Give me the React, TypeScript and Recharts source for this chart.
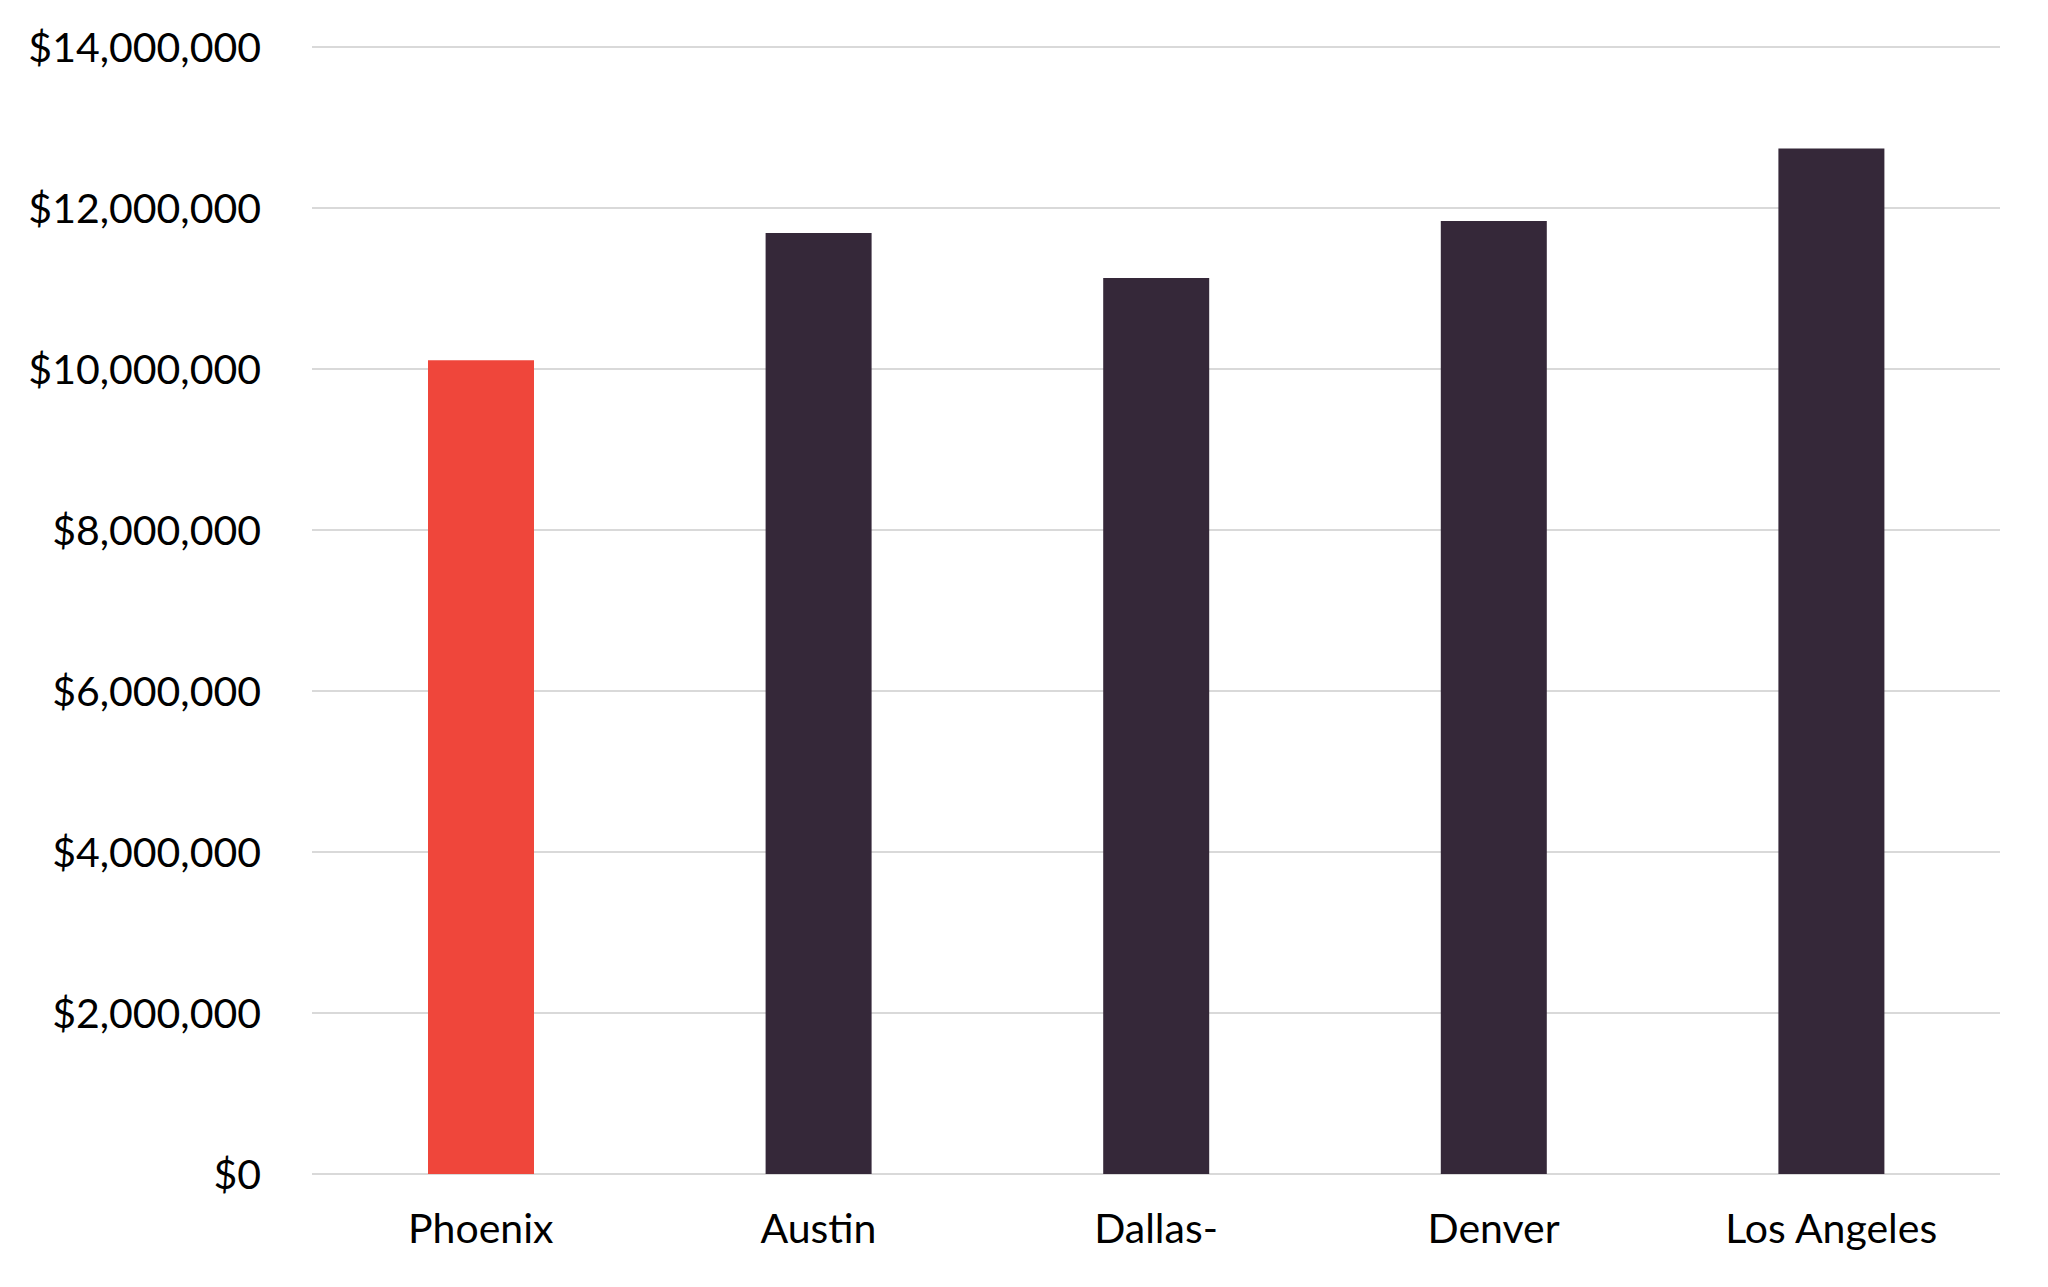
import { BarChart, Bar, Cell, XAxis, YAxis, CartesianGrid } from "recharts";

const cities = ["Phoenix", "Austin", "Dallas-", "Denver", "Los Angeles"];
const amounts = [10110000, 11690000, 11130000, 11840000, 12740000];
const yTicks = [0, 2000000, 4000000, 6000000, 8000000, 10000000, 12000000, 14000000];

const HIGHLIGHT = "#EF463B";
const BASE = "#352839";

const data = cities.map((city, i) => ({ city, amount: amounts[i] }));

const fmt = (v: number) => "$" + v.toLocaleString("en-US");

export default function App() {
  const tickStyle = { fill: "#000", fontSize: 41, fontFamily: "Lato, sans-serif" };
  return (
    <div style={{ width: 2032, height: 1271, background: "#fff" }}>
      <BarChart
        width={2032}
        height={1271}
        data={data}
        margin={{ top: 39, right: 40, left: 0, bottom: 0 }}
      >
        <CartesianGrid vertical={false} stroke="#d9d9d9" strokeWidth={2} />
        <XAxis
          dataKey="city"
          axisLine={false}
          tickLine={false}
          tickSize={0}
          tickMargin={40}
          height={105}
          tick={tickStyle}
          interval={0}
        />
        <YAxis
          domain={[0, 14000000]}
          ticks={yTicks}
          tickFormatter={fmt}
          axisLine={false}
          tickLine={false}
          tickSize={0}
          tickMargin={51}
          width={304}
          tick={tickStyle}
        />
        <Bar dataKey="amount" barSize={106} isAnimationActive={false}>
          {data.map((d, i) => (
            <Cell key={d.city} fill={i === 0 ? HIGHLIGHT : BASE} />
          ))}
        </Bar>
      </BarChart>
    </div>
  );
}
